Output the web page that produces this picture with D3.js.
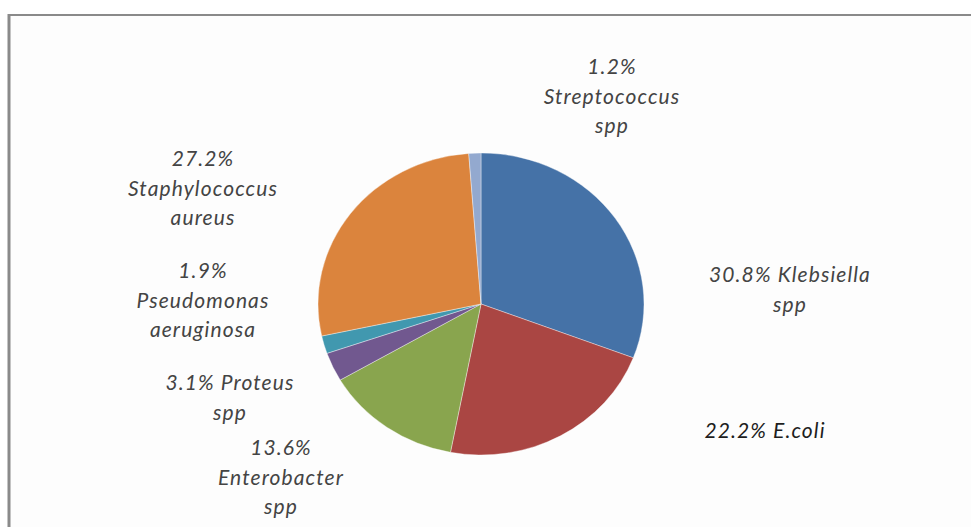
<!DOCTYPE html>
<html>
<head>
<meta charset="utf-8">
<script src="https://cdn.jsdelivr.net/npm/d3@7"></script>
<style>
  html, body { margin: 0; padding: 0; background: #fff; }
  .slice-label { font-family: "Lato", "Open Sans", sans-serif; font-style: italic; font-size: 21px; letter-spacing: 1.1px; fill: #444; }
</style>
</head>
<body>
<div id="chart"></div>
<script>
// organisms, clockwise from 12 o'clock
const organisms = ["Klebsiella spp", "E.coli", "Enterobacter spp", "Proteus spp",
  "Pseudomonas aeruginosa", "Staphylococcus aureus", "Streptococcus spp"];
const percents = [30.8, 22.2, 13.6, 3.1, 1.9, 27.2, 1.2];
const colors = ["#4572a7", "#aa4643", "#89a54e", "#71588f", "#4198af", "#db843d", "#93a9cf"];
// how each data label breaks into lines
const labelLines = [
  ["30.8% Klebsiella", "spp"],
  ["22.2% E.coli"],
  ["13.6%", "Enterobacter", "spp"],
  ["3.1% Proteus", "spp"],
  ["1.9%", "Pseudomonas", "aeruginosa"],
  ["27.2%", "Staphylococcus", "aureus"],
  ["1.2%", "Streptococcus", "spp"]
];

const width = 971, height = 527;
const center = {x: 481, y: 304};
const radius = 151, stretchX = 163 / 151;  // the source picture is a bit wider than tall
const lineHeight = 29.5;

// where each label block sits (first baseline, centre x)
const labelAnchor = [
  {x: 790, y: 282}, {x: 765, y: 438}, {x: 281, y: 455}, {x: 230, y: 390},
  {x: 203, y: 278}, {x: 203, y: 166}, {x: 612, y: 74}
];

const svg = d3.select("#chart").append("svg")
  .attr("width", width)
  .attr("height", height);

// plot area frame (only top and left edges show)
svg.append("rect")
  .attr("x", 9).attr("y", 15)
  .attr("width", width).attr("height", height)
  .attr("fill", "#fdfdfd");
svg.append("line")
  .attr("x1", 8).attr("x2", width).attr("y1", 15).attr("y2", 15)
  .attr("stroke", "#8a8a8a").attr("stroke-width", 2);
svg.append("line")
  .attr("x1", 9).attr("x2", 9).attr("y1", 14).attr("y2", height)
  .attr("stroke", "#8a8a8a").attr("stroke-width", 3);

const data = organisms.map((d, i) => ({name: d, value: percents[i], lines: labelLines[i]}));

const pie = d3.pie().sort(null).value(d => d.value);
const arc = d3.arc().innerRadius(0).outerRadius(radius);

const g = svg.append("g")
  .attr("transform", `translate(${center.x},${center.y}) scale(${stretchX},1)`);

g.selectAll("path")
  .data(pie(data))
  .join("path")
  .attr("d", arc)
  .attr("fill", (d, i) => colors[i])
  .attr("stroke", "#ffffff")
  .attr("stroke-opacity", 0.6)
  .attr("stroke-width", 0.6);

const labels = svg.append("g").selectAll("text")
  .data(data)
  .join("text")
  .attr("class", "slice-label")
  .attr("text-anchor", "middle")
  .attr("x", (d, i) => labelAnchor[i].x)
  .attr("y", (d, i) => labelAnchor[i].y)
  .style("fill", d => d.name == "E.coli" ? "#1e1e1e" : null);

labels.selectAll("tspan")
  .data(d => d.lines.map((t, k) => ({t, k})))
  .join("tspan")
  .attr("x", function() { return this.parentNode.getAttribute("x"); })
  .attr("dy", d => d.k == 0 ? 0 : lineHeight)
  .text(d => d.t);
</script>
</body>
</html>
